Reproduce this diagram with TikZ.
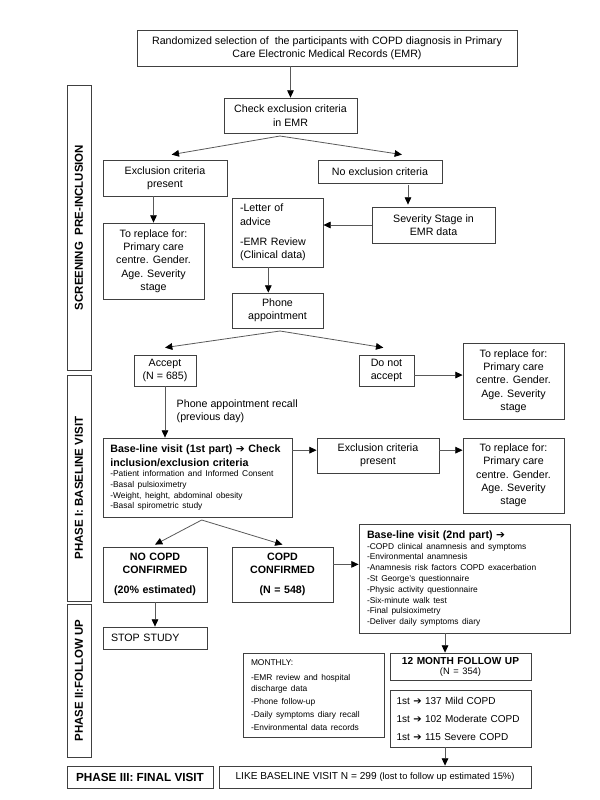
\documentclass[tikz,border=0pt]{standalone}
\usepackage{fontspec}
\setmainfont{Liberation Sans}
\newfontfamily\arrowfont{DejaVu Sans}
\usetikzlibrary{positioning, arrows.meta, calc}

\newcommand{\txt}{\fontsize{8}{10}\selectfont}
\newcommand{\smalltxt}{\fontsize{6.3}{8}\selectfont}
\newcommand{\rarrow}{{\arrowfont ➔}}

\tikzset{
  box/.style={draw=black!75, line width=0.6pt, align=center, inner sep=2pt, font=\txt},
  lbox/.style={box, align=left, inner xsep=6pt},
  phase/.style={box, rotate=90, minimum height=18pt, font=\fontsize{8.6}{10}\selectfont\bfseries},
  arr/.style={draw=black!65, line width=0.6pt, -{Triangle[length=5.5pt, width=5pt, color=black]}}
}

\begin{document}
\begin{tikzpicture}[x=0.75pt, y=-0.75pt]
  \useasboundingbox (0,0) rectangle (600,800);

  % phases on the left
  \node[phase, minimum width=213.75pt] (screen) at (79,227.5) {SCREENING\hspace*{5pt}PRE-INCLUSION};
  \node[phase, minimum width=169.5pt] (ph1) at (79,488) {PHASE I: BASELINE VISIT};
  \node[phase, minimum width=114.75pt] (ph2) at (79,680.5) {PHASE II:FOLLOW UP};
  \node[box, font=\fontsize{8.8}{10}\selectfont\bfseries, minimum width=109.5pt, minimum height=16.5pt] (ph3) at (140,777) {PHASE III: FINAL VISIT};

  % screening
  \node[box, minimum width=285pt, minimum height=27pt] (top) at (327,48)
    {Randomized selection of~ the participants with COPD diagnosis in Primary\\Care Electronic Medical Records (EMR)};
  \node[box, minimum width=99.75pt, minimum height=26.25pt] (check) at (290.5,115.5) {Check exclusion criteria\\in EMR};
  \node[box, minimum width=93pt, minimum height=27pt] (excl) at (165,178) {Exclusion criteria\\present};
  \node[box, minimum width=93pt, minimum height=17.25pt] (noexcl) at (380,171.5) {No exclusion criteria};
  \node[box, minimum width=75.75pt, minimum height=57pt] (repl1) at (153.5,261)
    {To replace for:\\Primary care\\centre. Gender.\\Age. Severity\\stage};
  \node[lbox, text width=56.25pt, minimum height=51.75pt] (letter) at (277.5,232.5)
    {-Letter of\\advice\\[5pt]-EMR Review\\(Clinical data)};
  \node[box, minimum width=92.25pt, minimum height=27pt] (sev) at (433.5,225) {Severity Stage in\\EMR data};
  \node[box, minimum width=68.25pt, minimum height=26.25pt] (phone) at (277.5,310.5) {Phone\\appointment};
  \node[box, minimum width=46.5pt, minimum height=23.25pt] (accept) at (165,370.5) {Accept\\(N = 685)};
  \node[box, minimum width=41.25pt, minimum height=23.25pt] (noaccept) at (386.5,370.5) {Do not\\accept};
  \node[box, minimum width=75.75pt, minimum height=57pt] (repl2) at (513.5,381)
    {To replace for:\\Primary care\\centre. Gender.\\Age. Severity\\stage};

  % baseline visit
  \node[font=\txt, align=left, anchor=west] (recall) at (172,411) {Phone appointment recall\\(previous day)};
  \node[lbox, inner xsep=5.5pt, text width=130.75pt, minimum height=59.25pt] (visit1) at (197.5,477.5)
    {{\bfseries\fontsize{8}{10.5}\selectfont Base-line visit (1st part) \rarrow{} Check\\inclusion/exclusion criteria\par}
     {\smalltxt -Patient information and Informed Consent\\-Basal pulsioximetry\\-Weight, height, abdominal obesity\\-Basal spirometric study\par}};
  \node[box, minimum width=91.5pt, minimum height=26.25pt] (excl2) at (378,455.5) {Exclusion criteria\\present};
  \node[box, minimum width=75.75pt, minimum height=56.25pt] (repl3) at (513.5,475.5)
    {To replace for:\\Primary care\\centre. Gender.\\Age. Severity\\stage};
  \node[box, text width=74pt, minimum height=41.25pt] (nocopd) at (155,574.5)
    {\bfseries NO COPD\\CONFIRMED\\[5pt](20\% estimated)};
  \node[box, text width=71.75pt, minimum height=41.25pt] (copd) at (282.5,574.5)
    {\bfseries COPD\\CONFIRMED\\[5pt](N = 548)};
  \node[lbox, text width=146.25pt, minimum height=81.75pt] (visit2) at (464.5,578.5)
    {{\bfseries\fontsize{8}{10.5}\selectfont Base-line visit (2nd part) \rarrow\par}
     {\fontsize{6.3}{8.1}\selectfont -COPD clinical anamnesis and symptoms\\-Environmental anamnesis\\-Anamnesis risk factors COPD exacerbation\\-St George's questionnaire\\-Physic activity questionnaire\\-Six-minute walk test\\-Final pulsioximetry\\-Deliver daily symptoms diary\par}};

  % follow up
  \node[lbox, text width=66pt, minimum height=16.5pt] (stop) at (155,638) {STOP STUDY};
  \node[box, text width=101.75pt, minimum height=20.25pt] (month12) at (460.5,666.5)
    {{\fontsize{7.6}{9}\selectfont\bfseries 12 MONTH FOLLOW UP\par}{\fontsize{7}{7.5}\selectfont (N = 354)\par}};
  \node[lbox, inner xsep=5pt, text width=95.75pt, minimum height=42.75pt, font=\fontsize{7.5}{10}\selectfont] (counts) at (460.5,718.5)
    {1st \rarrow{} 137 Mild COPD\\[3.5pt]1st \rarrow{} 102 Moderate COPD\\[3.5pt]1st \rarrow{} 115 Severe COPD};
  \node[lbox, text width=93.75pt, minimum height=63pt] (monthly) at (313.5,695)
    {{\smalltxt MONTHLY:\\[3.5pt]-EMR review and hospital\\discharge data\\[1.8pt]-Phone follow-up\\[1.8pt]-Daily symptoms diary recall\\[1.8pt]-Environmental data records\par}};

  % final visit
  \node[box, minimum width=234pt, minimum height=16.5pt, font=\fontsize{7.6}{9}\selectfont] (final) at (375,777)
    {LIKE BASELINE VISIT N = 299 {\fontsize{7}{8}\selectfont (lost to follow up estimated 15\%)}};

  \coordinate (chk-split) at (280,136);
  \coordinate (ph-split) at (280,331);
  \coordinate (v1-split) at (201.7,520);

  \path[every edge/.style=arr]
  (check.north |- top.south) edge (check.north)
    (chk-split) edge ([xshift=5pt,yshift=3.75pt]excl.north)
  (chk-split) edge ([xshift=16.5pt,yshift=3.75pt]noexcl.north)
    (repl1.north |- excl.south) edge (repl1.north)
  ([xshift=21pt,yshift=-1.5pt]noexcl.south) edge ([xshift=21pt,yshift=1.5pt]noexcl.south |- sev.north)
    (sev.west) edge (sev.west -| letter.east)
  ([xshift=-6.9pt]letter.south) edge ([xshift=-6.9pt]letter.south |- phone.north)
    (ph-split) edge ([yshift=5.25pt]accept.north)
  (ph-split) edge ([xshift=-2.4pt,yshift=5.25pt]noaccept.north)
    ([yshift=-3.4pt]noaccept.east) edge ([yshift=-3.4pt]noaccept.east -| repl2.west)
  (accept.south) edge (accept.south |- visit1.north)
    ([yshift=4pt]excl2.west -| visit1.east) edge ([yshift=4pt]excl2.west)
  ([yshift=4pt]excl2.east) edge ([yshift=4pt]excl2.east -| repl3.west)
    (v1-split) edge ([yshift=1.5pt]nocopd.north)
  (v1-split) edge ([yshift=1.5pt]copd.north)
    ([yshift=7.6pt]copd.east) edge ([yshift=7.6pt]copd.east -| visit2.west)
  (nocopd.south) edge (stop.north)
    ([xshift=-11.6pt]month12.north |- visit2.south) edge ([xshift=-11.6pt]month12.north)
  ([xshift=-11.6pt]counts.south) edge ([xshift=-11.6pt]counts.south |- final.north);
\end{tikzpicture}
\end{document}
